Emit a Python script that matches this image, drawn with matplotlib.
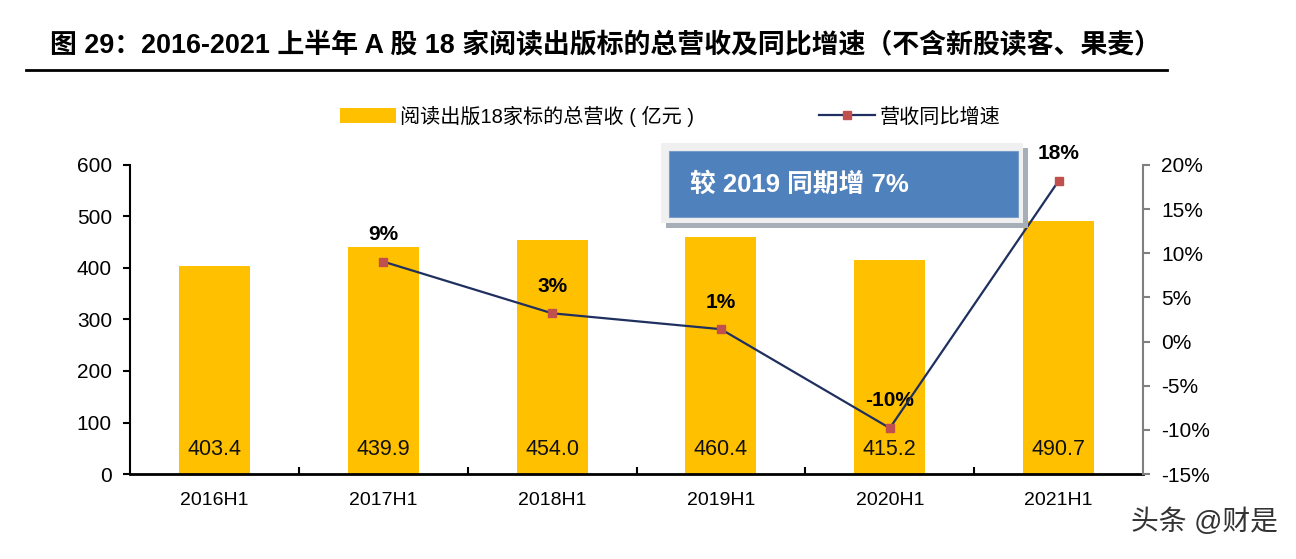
import matplotlib
matplotlib.use("Agg")
import matplotlib.pyplot as plt
from matplotlib.patches import Rectangle
from matplotlib.lines import Line2D
from matplotlib.ticker import FuncFormatter

plt.rcParams['font.family'] = ['Liberation Sans', 'Noto Sans CJK SC', 'DejaVu Sans']

# 数据
periods = ["2016H1", "2017H1", "2018H1", "2019H1", "2020H1", "2021H1"]
revenue = [403.4, 439.9, 454.0, 460.4, 415.2, 490.7]
growth = [None, 9.05, 3.2, 1.4, -9.8, 18.2]
growth_labels = ["", "9%", "3%", "1%", "-10%", "18%"]

bar_color = "#FFC000"
line_color = "#1F2F5F"
marker_color = "#C0504D"

fig = plt.figure(figsize=(12.96, 5.59), dpi=100)
ax = fig.add_axes([0.1003, 0.152, 0.7817, 0.553])
ax2 = ax.twinx()

x = list(range(len(periods)))
ax.bar(x, revenue, width=0.42, color=bar_color, zorder=2)
for xi, v in zip(x, revenue):
    ax.text(xi, 47, f"{v:.1f}", ha="center", va="center", fontsize=15.5, color="#111111", zorder=3)

ax.set_xlim(-0.5, len(periods) - 0.5)
ax.set_ylim(0, 600)
ax.set_yticks(range(0, 601, 100))
ax.set_xticks(x)
ax.set_xticklabels(periods, fontsize=14)
ax.set_xticks([i + 0.5 for i in x[:-1]], minor=True)
ax.tick_params(axis="x", which="major", length=0, pad=13)
ax.tick_params(axis="x", which="minor", direction="in", length=5, width=1.5)
ax.tick_params(axis="y", labelsize=15, length=5, width=1.5, pad=8)
for s in ["top", "right"]:
    ax.spines[s].set_visible(False)
ax.spines["left"].set_linewidth(1.5)
ax.spines["bottom"].set_linewidth(2)

# 增速折线
gx = [xi for xi, g in zip(x, growth) if g is not None]
gy = [g for g in growth if g is not None]
ax2.plot(gx, gy, color=line_color, lw=1.6, marker="s", ms=6,
         mfc=marker_color, mec=marker_color, zorder=4)
for xi, g, lab in zip(x, growth, growth_labels):
    if g is None:
        continue
    ax2.text(xi, g + 2.0, lab, ha="center", va="bottom", fontsize=15,
             fontweight="bold", color="black")
ax2.set_ylim(-15, 20)
ax2.set_yticks(range(-15, 21, 5))
ax2.yaxis.set_major_formatter(FuncFormatter(lambda v, p: f"{int(v)}%"))
ax2.tick_params(axis="y", labelsize=15, length=5, width=1.5, color="#808080", pad=8)
for s in ["top", "left", "bottom"]:
    ax2.spines[s].set_visible(False)
ax2.spines["right"].set_color("#808080")
ax2.spines["right"].set_linewidth(1.5)
ax.set_zorder(ax2.get_zorder() - 1)
ax.patch.set_visible(False)

# 文本框
fig.patches.append(Rectangle((666 / 1296, 1 - 228 / 559), 362 / 1296, 80 / 559,
                             transform=fig.transFigure, facecolor="#A6AEB8",
                             edgecolor="none", zorder=5))
fig.patches.append(Rectangle((661 / 1296, 1 - 223 / 559), 362 / 1296, 80 / 559,
                             transform=fig.transFigure, facecolor="#F0F0F0",
                             edgecolor="none", zorder=6))
fig.patches.append(Rectangle((669 / 1296, 1 - 217 / 559), 349 / 1296, 66 / 559,
                             transform=fig.transFigure, facecolor="#4F81BD",
                             edgecolor="#7A9CC8", lw=0.8, zorder=7))
fig.text(690 / 1296, 1 - 184 / 559, "较 2019 同期增 7%", fontsize=18.5,
         fontweight="bold", color="white", va="center", ha="left", zorder=8)

# 图例
handles = [Rectangle((0, 0), 1, 1, facecolor=bar_color),
           Line2D([0], [0], color=line_color, lw=1.6, marker="s", ms=6,
                  mfc=marker_color, mec=marker_color)]
fig.legend(handles, ["阅读出版18家标的总营收 ( 亿元 )", "营收同比增速"],
           loc="center", bbox_to_anchor=(670 / 1296, 1 - 116 / 559), ncol=2,
           frameon=False, fontsize=14.5, columnspacing=6.2, handlelength=2.8,
           handletextpad=0.2)

# 标题
fig.text(50 / 1296, 1 - 46 / 559,
         "图 29：2016-2021 上半年 A 股 18 家阅读出版标的总营收及同比增速（不含新股读客、果麦）",
         fontsize=19.4, fontweight="bold", va="center", ha="left")
fig.add_artist(Line2D([26 / 1296, 1167 / 1296], [1 - 70 / 559, 1 - 70 / 559],
                      transform=fig.transFigure, color="black", lw=2))

# 水印
fig.text(1278 / 1296, 1 - 522 / 559, "头条 @财是", fontsize=20, color="#333333",
         ha="right", va="center")

fig.savefig("out.png", dpi=100)
